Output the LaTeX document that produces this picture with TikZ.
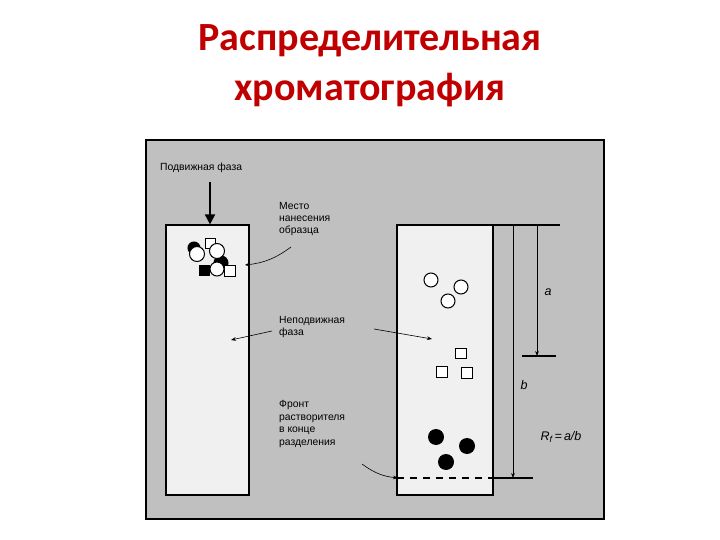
\documentclass[tikz,border=0pt]{standalone}
\usepackage{fontspec}
\setmainfont{Liberation Sans}
\newfontfamily\titlefont{Carlito}
\usetikzlibrary{arrows.meta}
\definecolor{bg}{RGB}{192,192,192}
\definecolor{col}{RGB}{240,240,240}
\definecolor{tred}{RGB}{192,0,0}
\tikzset{lbl/.style={font=\fontsize{13.5}{16}\selectfont,align=left,anchor=west,inner sep=0pt,scale=0.83,transform shape=false},
wc/.style={draw,line width=1pt,fill=white},
bc/.style={draw,line width=1pt,fill=black},
thin/.style={-{Stealth[length=5pt]},line width=0.6pt},
colbox/.style={draw,line width=1.2pt,fill=col}}
\begin{document}
\begin{tikzpicture}[x=1pt,y=-1pt]
\useasboundingbox (0,0) rectangle (720,540);
\node[font=\titlefont\bfseries\fontsize{40}{50}\selectfont,text=tred,align=center] (title) at (370,66) {Распределительная\\хроматография};
\draw[line width=1.2pt,fill=bg] (146,140) rectangle (604,519);
\node[colbox,minimum width=83pt,minimum height=270pt,inner sep=0pt] (L) at (207.5,360) {};
\node[colbox,minimum width=96pt,minimum height=270pt,inner sep=0pt] (R) at (445,360) {};
% left sample
\draw[bc] (194,248) circle (6);
\draw[wc] (205,238) rectangle (215,248);
\draw[wc] (197,254) circle (7.5);
\draw[bc] (221,263) circle (7);
\draw[wc] (217,251) circle (7.5);
\draw[bc] (199,265) rectangle (209,275);
\draw[wc] (224,265) rectangle (235,276);
\draw[wc] (217,269) circle (7);
% right
\draw[wc] (431,280) circle (7);
\draw[wc] (461,287) circle (7);
\draw[wc] (448,301) circle (7);
\draw[wc] (455,348) rectangle (466,358);
\draw[wc] (436,366) rectangle (447,377);
\draw[wc] (461,367) rectangle (472,378);
\fill (436,437) circle (8);
\fill (467,446) circle (8);
\fill (446,462) circle (8);
% lines
\draw[dashed,dash pattern=on 7pt off 6pt,line width=1.2pt] (397,478) -- (493,478);
\draw[line width=1.2pt] (493,478) -- (533,478);
\draw[line width=1.2pt] (493,225) -- (560,225);
\draw[line width=1.2pt] (522,356) -- (556,356);
\coordinate (btop) at (513,225); \coordinate (bbot) at (513,478);
\coordinate (atop) at (537,225); \coordinate (abot) at (537,356);
\draw[thin] (btop) -- (bbot);
\draw[thin] (atop) -- (abot);
\node[font=\itshape\fontsize{12.5}{14}\selectfont] (a) at (548,292) {a};
\node[font=\itshape\fontsize{12.5}{14}\selectfont] (b) at (524,385) {b};
\node[font=\itshape\fontsize{12.5}{14}\selectfont] (rf) at (561,437) {R\textsubscript{f}\,=\,a/b};
% labels
\node[lbl,font=\fontsize{12.5}{15}\selectfont] (mob) at (160,168) {Подвижная фаза};
\draw[-{Triangle[length=10pt,width=10pt]},line width=2pt] (210,182) -- (L.north -| 210,0);
\node[lbl,font=\fontsize{12.5}{15}\selectfont] (place) at (279,219) {Место\\нанесения\\образца};
\coordinate (p1) at (245,265);
\draw[thin] (291,247) to[bend left=15] (p1);
\node[lbl,font=\fontsize{12.5}{15}\selectfont] (stat) at (279,327) {Неподвижная\\фаза};
\coordinate (s1) at (231,340); \coordinate (s2) at (432,339);
\draw[thin] (272,331) -- (s1);
\draw[thin] (374,329) -- (s2);
\node[lbl,font=\fontsize{12.5}{15}\selectfont] (front) at (279,424) {Фронт\\растворителя\\в конце\\разделения};
\coordinate (f1) at (398,478);
\draw[thin] (362,464) to[bend right=15] (f1);
\end{tikzpicture}
\end{document}
